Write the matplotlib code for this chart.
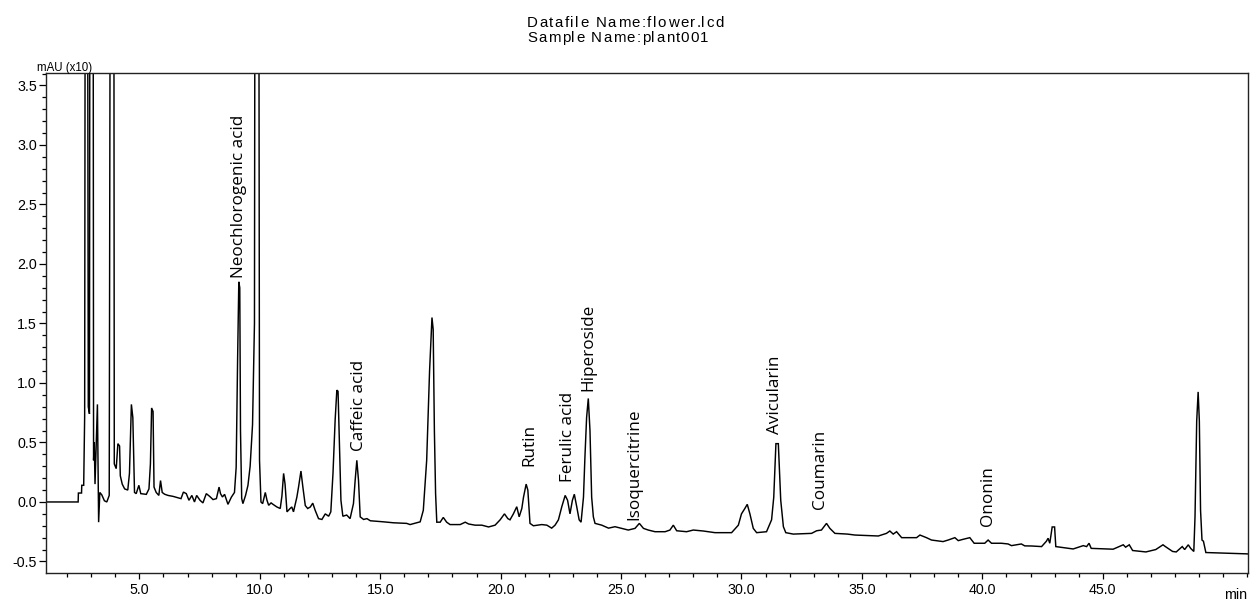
import matplotlib
matplotlib.use("Agg")
import matplotlib.pyplot as plt
from matplotlib.ticker import MultipleLocator, FixedLocator
from matplotlib.textpath import TextToPath
from matplotlib.font_manager import FontProperties

# ---- data (time in min, signal in mAU x10) ----
time_min = [
    1.13, 2.46, 2.47, 2.60, 2.61, 2.69, 2.73, 2.77, 2.83, 2.88, 2.93, 2.96, 3.07, 3.10, 3.13, 3.16,
    3.26, 3.31, 3.36, 3.44, 3.55, 3.65, 3.75, 3.82, 3.93, 3.96, 4.04, 4.11, 4.18, 4.21, 4.29, 4.39,
    4.52, 4.59, 4.67, 4.73, 4.80, 4.87, 4.98, 5.06, 5.29, 5.40, 5.46, 5.51, 5.57, 5.61, 5.70, 5.81,
    5.88, 5.95, 6.05, 6.19, 6.40, 6.60, 6.73, 6.83, 6.95, 7.06, 7.18, 7.29, 7.38, 7.52, 7.64, 7.78,
    7.92, 8.06, 8.20, 8.31, 8.37, 8.45, 8.54, 8.68, 8.82, 8.95, 9.02, 9.08, 9.13, 9.17, 9.20, 9.25,
    9.30, 9.41, 9.51, 9.60, 9.70, 9.78, 9.82, 9.94, 9.99, 10.05, 10.12, 10.23, 10.30, 10.37, 10.47,
    10.55, 10.71, 10.85, 10.92, 10.99, 11.05, 11.13, 11.26, 11.33, 11.40, 11.54, 11.61, 11.71, 11.79,
    11.89, 11.99, 12.10, 12.20, 12.30, 12.44, 12.58, 12.72, 12.86, 12.95, 13.04, 13.13, 13.20, 13.25,
    13.31, 13.37, 13.45, 13.61, 13.75, 13.89, 13.96, 14.03, 14.10, 14.17, 14.31, 14.45, 14.59, 15.14,
    15.55, 16.10, 16.24, 16.66, 16.79, 16.93, 17.05, 17.15, 17.20, 17.25, 17.30, 17.35, 17.49, 17.62,
    17.76, 17.90, 18.32, 18.53, 18.67, 18.94, 19.22, 19.50, 19.77, 19.98, 20.16, 20.30, 20.39, 20.53,
    20.67, 20.77, 20.88, 20.95, 21.06, 21.13, 21.22, 21.36, 21.71, 21.92, 22.12, 22.26, 22.40, 22.54,
    22.68, 22.78, 22.88, 22.98, 23.06, 23.16, 23.26, 23.34, 23.44, 23.50, 23.57, 23.64, 23.71, 23.78,
    23.85, 23.92, 24.20, 24.48, 24.75, 25.03, 25.30, 25.58, 25.76, 25.93, 26.13, 26.41, 26.83, 27.03,
    27.17, 27.31, 27.72, 28.00, 28.41, 28.90, 29.59, 29.87, 30.00, 30.14, 30.24, 30.35, 30.49, 30.63,
    31.04, 31.25, 31.34, 31.43, 31.53, 31.63, 31.74, 31.84, 32.15, 32.91, 33.12, 33.32, 33.53, 33.67,
    33.88, 34.40, 34.71, 35.68, 36.02, 36.16, 36.30, 36.44, 36.65, 37.27, 37.41, 37.68, 37.89, 38.37,
    38.58, 38.86, 39.00, 39.20, 39.48, 39.66, 40.10, 40.24, 40.38, 40.79, 41.07, 41.21, 41.62, 41.76,
    42.04, 42.46, 42.66, 42.73, 42.80, 42.90, 43.00, 43.05, 43.77, 44.19, 44.33, 44.43, 44.52, 45.43,
    45.85, 45.95, 46.10, 46.24, 46.79, 47.20, 47.50, 47.60, 47.90, 48.05, 48.30, 48.40, 48.55, 48.65,
    48.78, 48.83, 48.90, 48.96, 49.01, 49.06, 49.12, 49.18, 49.28, 50.96, 51.10,
]
signal = [
    0.0, 0.0, 0.075, 0.075, 0.14, 0.14, 0.72, 8.0, 8.0, 0.80, 0.74, 8.0, 8.0, 0.35, 0.50, 0.15,
    0.82, -0.17, 0.08, 0.06, 0.01, 0.0, 0.055, 8.0, 8.0, 0.32, 0.28, 0.49, 0.47, 0.22, 0.15, 0.11,
    0.10, 0.24, 0.82, 0.71, 0.08, 0.07, 0.14, 0.07, 0.064, 0.11, 0.32, 0.79, 0.76, 0.125, 0.08, 0.055,
    0.18, 0.08, 0.065, 0.055, 0.047, 0.036, 0.028, 0.083, 0.07, 0.014, 0.055, 0.0, 0.055, 0.014, -0.008, 0.07,
    0.047, 0.02, 0.028, 0.125, 0.07, 0.042, 0.064, -0.02, 0.04, 0.08, 0.29, 1.2, 1.85, 1.80, 0.6, 0.03,
    -0.014, 0.055, 0.14, 0.30, 0.65, 1.5, 8.0, 8.0, 0.35, 0.0, -0.014, 0.08, 0.014, -0.028, -0.008,
    -0.02, -0.042, -0.055, 0.05, 0.24, 0.15, -0.083, -0.055, -0.042, -0.083, 0.04, 0.125, 0.26, 0.125,
    -0.03, -0.055, -0.042, -0.01, -0.07, -0.14, -0.147, -0.10, -0.12, -0.083, 0.24, 0.69, 0.94, 0.93,
    0.47, 0.014, -0.12, -0.11, -0.14, -0.014, 0.18, 0.35, 0.18, -0.125, -0.147, -0.14, -0.158, -0.167,
    -0.175, -0.18, -0.19, -0.167, -0.07, 0.35, 1.10, 1.55, 1.45, 0.60, 0.07, -0.17, -0.17, -0.13,
    -0.17, -0.19, -0.19, -0.17, -0.185, -0.195, -0.195, -0.21, -0.195, -0.15, -0.10, -0.14, -0.15, -0.10,
    -0.04, -0.125, -0.055, 0.04, 0.15, 0.10, -0.18, -0.20, -0.19, -0.195, -0.22, -0.195, -0.15, -0.04,
    0.055, 0.014, -0.10, 0.014, 0.065, -0.04, -0.15, -0.17, 0.04, 0.375, 0.71, 0.87, 0.60, 0.04,
    -0.125, -0.18, -0.195, -0.22, -0.208, -0.222, -0.236, -0.222, -0.18, -0.222, -0.236, -0.25, -0.25, -0.236,
    -0.195, -0.242, -0.25, -0.236, -0.244, -0.258, -0.258, -0.195, -0.10, -0.055, -0.02, -0.10, -0.222, -0.258,
    -0.25, -0.15, 0.04, 0.49, 0.49, 0.014, -0.208, -0.258, -0.27, -0.264, -0.242, -0.236, -0.18, -0.222,
    -0.264, -0.27, -0.278, -0.286, -0.264, -0.244, -0.27, -0.25, -0.30, -0.30, -0.278, -0.30, -0.32, -0.333,
    -0.32, -0.30, -0.325, -0.314, -0.30, -0.347, -0.347, -0.32, -0.347, -0.347, -0.353, -0.367, -0.353, -0.369,
    -0.37, -0.375, -0.33, -0.305, -0.347, -0.21, -0.21, -0.375, -0.395, -0.367, -0.375, -0.347, -0.39, -0.397,
    -0.36, -0.38, -0.36, -0.408, -0.42, -0.40, -0.36, -0.375, -0.416, -0.42, -0.375, -0.40, -0.36, -0.39,
    -0.416, -0.125, 0.68, 0.925, 0.68, -0.07, -0.32, -0.33, -0.425, -0.436, -0.438,
]

peak_names = ["Neochlorogenic acid", "Caffeic acid", "Rutin", "Ferulic acid", "Hiperoside",
              "Isoquercitrine", "Avicularin", "Coumarin", "Ononin"]
peak_label_time = [9.14, 14.12, 21.18, 22.81, 23.64, 25.54, 31.39, 33.26, 40.22]
peak_label_level = [1.88, 0.43, 0.30, 0.17, 0.93, -0.15, 0.575, -0.055, -0.20]

x_major = [5.0, 10.0, 15.0, 20.0, 25.0, 30.0, 35.0, 40.0, 45.0]
x_major_labels = ["5.0", "10.0", "15.0", "20.0", "25.0", "30.0", "35.0", "40.0", "45.0"]
y_major = [-0.5, 0.0, 0.5, 1.0, 1.5, 2.0, 2.5, 3.0, 3.5]
y_major_labels = ["-0.5", "0.0", "0.5", "1.0", "1.5", "2.0", "2.5", "3.0", "3.5"]

title_lines = ["Datafile Name:flower.lcd", "Sample Name:plant001"]

# ---- figure ----
W, H = 1250, 601
DPI = 100
fig = plt.figure(figsize=(W / DPI, H / DPI), dpi=DPI)
ax = fig.add_axes([46 / W, 1 - 573 / H, (1248 - 46) / W, (573 - 73) / H])

ax.plot(time_min, signal, color="black", lw=1.05, solid_joinstyle="miter")
ax.set_xlim(1.125, 51.03)
ax.set_ylim(-0.597, 3.605)

ax.xaxis.set_major_locator(FixedLocator(x_major))
ax.set_xticklabels(x_major_labels)
ax.xaxis.set_minor_locator(MultipleLocator(1.0))
ax.yaxis.set_major_locator(FixedLocator(y_major))
ax.set_yticklabels(y_major_labels)
ax.yaxis.set_minor_locator(MultipleLocator(0.1))

tick_font = "Liberation Sans"
ax.tick_params(axis="x", which="major", direction="out", length=4.5, width=0.9,
               pad=3, labelsize=10.3, colors="black")
ax.tick_params(axis="x", which="minor", direction="out", length=3.0, width=0.9)
ax.tick_params(axis="y", which="major", direction="out", length=5, width=0.9,
               pad=1.5, labelsize=10.3)
ax.tick_params(axis="y", which="minor", direction="out", length=3, width=0.9)
for lab in ax.get_xticklabels() + ax.get_yticklabels():
    lab.set_fontfamily(tick_font)

for sp in ax.spines.values():
    sp.set_linewidth(1.0)
    sp.set_color("#222222")

for name, tx, ty in zip(peak_names, peak_label_time, peak_label_level):
    ax.text(tx, ty, name, rotation=90, ha="center", va="bottom",
            fontsize=12.3, family="Open Sans", color="black")

# axis unit labels
fig.text(37 / W, 1 - 73.5 / H, "mAU (x10)", ha="left", va="bottom",
         fontsize=8.3, family=tick_font)
fig.text(1236 / W, 1 - 588 / H, "min", ha="center", va="top",
         fontsize=10.3, family=tick_font)

# header, drawn with the loose letter spacing of the original
title_size = 10.8
title_prop = FontProperties(family=tick_font, size=title_size)
ttp = TextToPath()


def _adv_px(s):
    w, _, _ = ttp.get_text_width_height_descent(s + "|", title_prop, ismath=False)
    w0, _, _ = ttp.get_text_width_height_descent("|", title_prop, ismath=False)
    return (w - w0) * DPI / 72.0


def tracked_text(x_px, baseline_px, s, track_px):
    for i, ch in enumerate(s):
        if ch == " ":
            continue
        xo = x_px + _adv_px(s[:i]) + i * track_px
        fig.text(xo / W, 1 - baseline_px / H, ch, ha="left", va="baseline",
                 fontproperties=title_prop, color="black")


tracked_text(527, 26.7, title_lines[0], 1.5)
tracked_text(527, 41.7, title_lines[1], 1.3)

fig.savefig("out.png", dpi=DPI)
